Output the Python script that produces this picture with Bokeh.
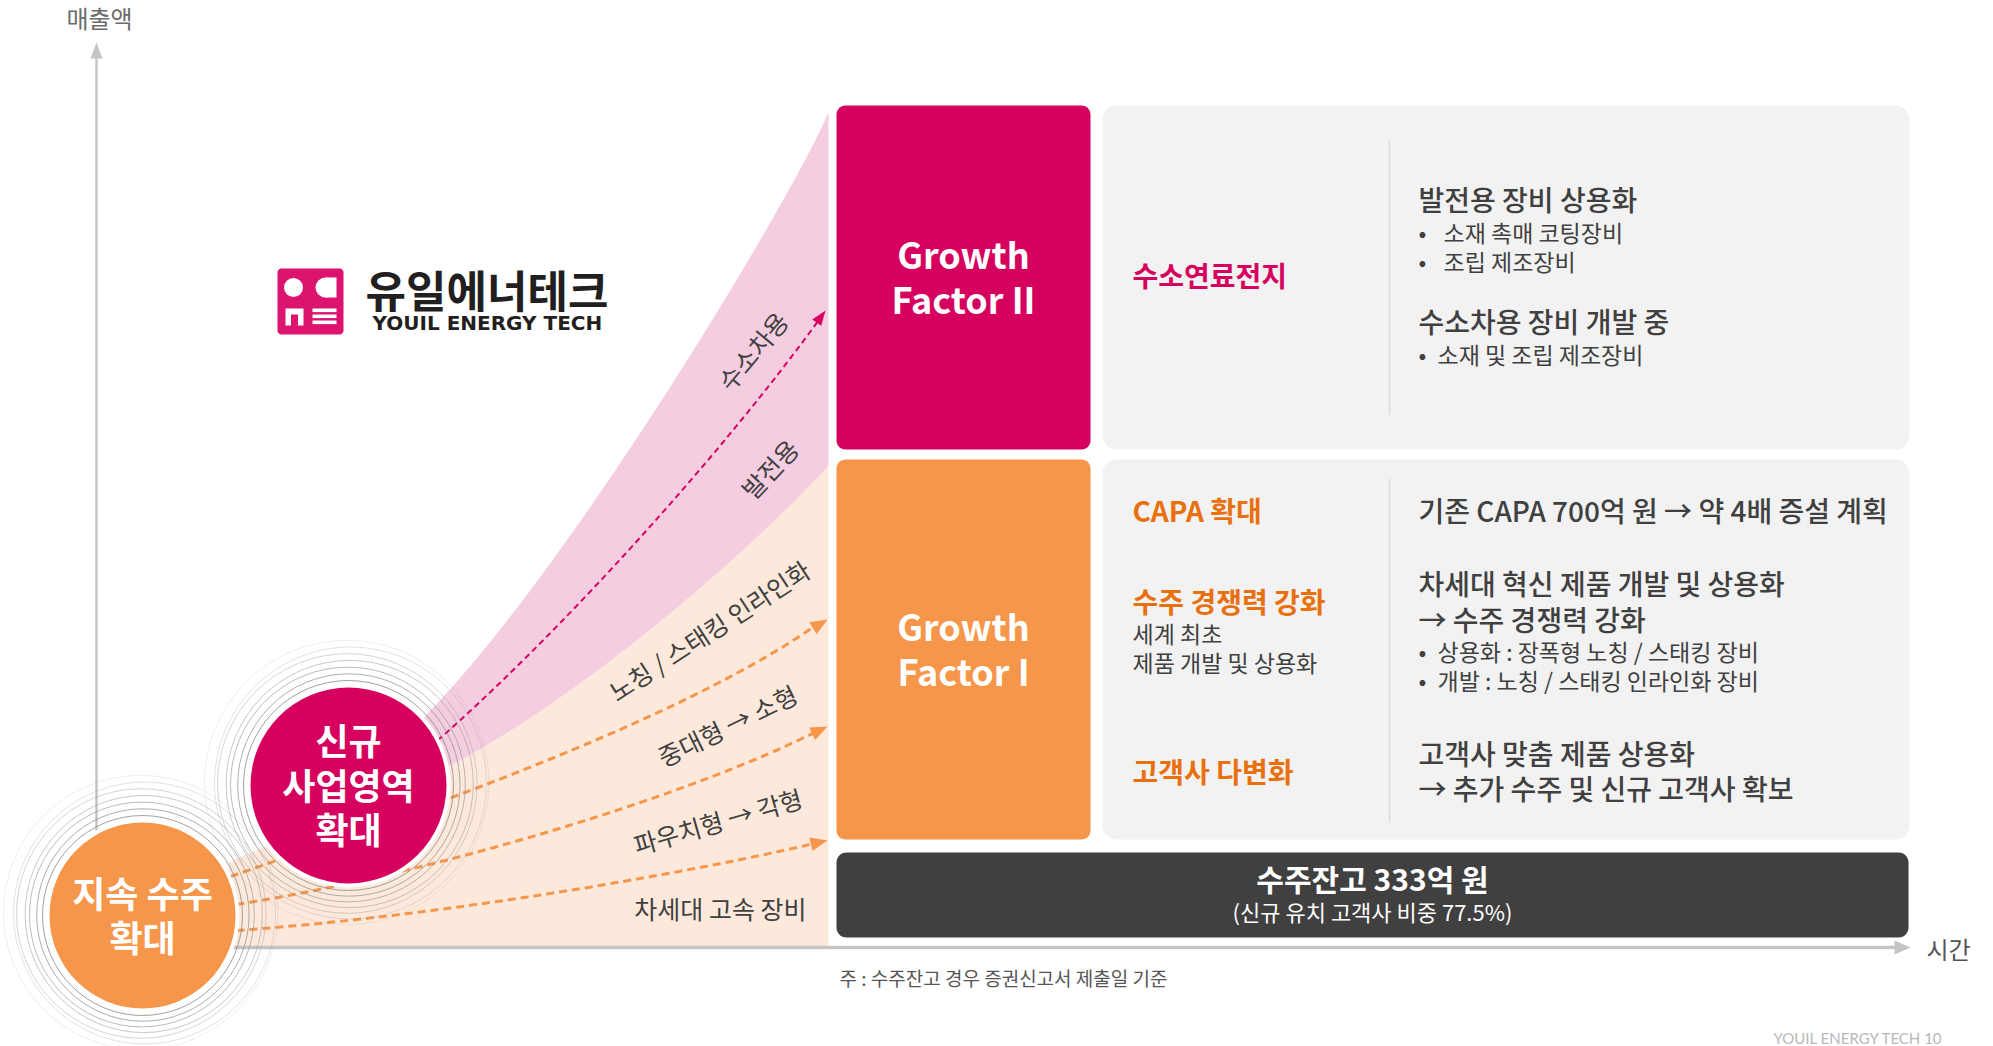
import numpy as np
from bokeh.plotting import figure
from bokeh.models import Range1d
from bokeh.core.properties import value
from bokeh.embed import file_html
from bokeh.resources import INLINE

# ---------------- content ----------------
axis_labels = ["매출액", "시간"]
circle_new = ["신규", "사업영역", "확대"]
circle_keep = ["지속 수주", "확대"]
h2_path_labels = ["수소차용", "발전용"]
core_path_labels = ["노칭 / 스태킹 인라인화", "중대형 → 소형", "파우치형 → 각형", "차세대 고속 장비"]
factor2_title = ["Growth", "Factor II"]
factor1_title = ["Growth", "Factor I"]
f2_category = ["수소연료전지"]
f2_heads = ["발전용 장비 상용화", "수소차용 장비 개발 중"]
f2_bullets = ["소재 촉매 코팅장비", "조립 제조장비", "소재 및 조립 제조장비"]
f1_categories = ["CAPA 확대", "수주 경쟁력 강화", "고객사 다변화"]
f1_category_sub = ["세계 최초", "제품 개발 및 상용화"]
f1_heads = ["기존 CAPA 700억 원 → 약 4배 증설 계획",
            "차세대 혁신 제품 개발 및 상용화", "→ 수주 경쟁력 강화",
            "고객사 맞춤 제품 상용화", "→ 추가 수주 및 신규 고객사 확보"]
f1_bullets = ["상용화 : 장폭형 노칭 / 스태킹 장비", "개발 : 노칭 / 스태킹 인라인화 장비"]
backlog_title = ["수주잔고 333억 원"]
backlog_sub = ["(신규 유치 고객사 비중 77.5%)"]
footnote = ["주 : 수주잔고 경우 증권신고서 제출일 기준"]
page_footer = ["YOUIL ENERGY TECH   10"]
logo_kr = ["유일에너테크"]
logo_en = ["YOUIL ENERGY TECH"]

# ---------------- style ----------------
MAGENTA = "#D6005F"
ORANGE = "#F5964A"
ORANGE_TXT = "#E9700E"
PINK = "#F4CDE0"
PEACH = "#FDE9DB"
PANEL = "#F2F2F2"
DARK = "#404040"
AXIS = "#C4C4C4"
FONT = "Noto Sans CJK KR"
FONT_MED = "Noto Sans CJK KR Medium"
W, H = 1993, 1046

p = figure(width=W, height=H, output_backend="svg", toolbar_location=None,
           x_axis_location=None, y_axis_location=None,
           x_range=Range1d(0, W), y_range=Range1d(H, 0))
p.min_border = 0
p.min_border_left = p.min_border_right = p.min_border_top = p.min_border_bottom = 0
p.grid.visible = False
p.outline_line_color = None
p.background_fill_color = "white"
p.border_fill_color = "white"


def bez(p0, p1, p2, p3, n=80):
    t = np.linspace(0, 1, n)[:, None]
    P = ((1 - t) ** 3) * np.array(p0) + 3 * ((1 - t) ** 2) * t * np.array(p1) \
        + 3 * (1 - t) * t ** 2 * np.array(p2) + t ** 3 * np.array(p3)
    return P[:, 0], P[:, 1]


def rrect(x0, y0, x1, y1, r, n=10):
    xs, ys = [], []
    for cx, cy, a0 in [(x0 + r, y0 + r, 180), (x1 - r, y0 + r, 270),
                       (x1 - r, y1 - r, 0), (x0 + r, y1 - r, 90)]:
        a = np.radians(np.linspace(a0, a0 + 90, n))
        xs += list(cx + r * np.cos(a))
        ys += list(cy + r * np.sin(a))
    return xs, ys


def box(x0, y0, x1, y1, r, color):
    xs, ys = rrect(x0, y0, x1, y1, r)
    p.patch(xs, ys, fill_color=color, line_color=None)


def txt(x, y, s, size, color=DARK, bold=False, align="left", angle=0.0, baseline="middle", font=FONT):
    if baseline == "middle":
        y = y - 3 * np.cos(angle)
        x = x - 3 * np.sin(angle)
    p.text(x=[x], y=[y], text=[s], text_font=value(font), text_font_size=f"{size}px",
           text_color=color, text_font_style="bold" if bold else "normal",
           text_align=align, text_baseline=baseline, angle=angle)


def bullet(xb, xt, y, s, size=23):
    txt(xb, y, "•", size)
    txt(xt, y, s, size)


def head(tip, prev, length, width, color):
    tx, ty = tip
    dx, dy = tx - prev[0], ty - prev[1]
    L = np.hypot(dx, dy)
    ux, uy = dx / L, dy / L
    bx, by = tx - ux * length, ty - uy * length
    px, py = -uy, ux
    p.patch([tx, bx + px * width / 2, bx - px * width / 2],
            [ty, by + py * width / 2, by - py * width / 2],
            fill_color=color, line_color=None)


# ---------------- growth fan ----------------
lx, ly = bez((828, 465), (790, 510), (600, 690), (440, 770))
# peach region
p.patch(list(lx) + [228, 228, 828], list(ly) + [862, 947, 947], fill_color=PEACH, line_color=None)
# pink region
ux_, uy_ = bez((420, 720), (560, 582), (788, 205), (828, 112))
p.patch(list(ux_) + list(lx), list(uy_) + list(ly), fill_color=PINK, line_color=None)

# axes
p.line([96, 96], [947, 58], line_color=AXIS, line_width=2.5)
head((96, 42), (96, 60), 16, 12, AXIS)
p.line([100, 1895], [947, 947], line_color=AXIS, line_width=3.5)
head((1910, 947), (1890, 947), 16, 14, AXIS)
txt(99, 20, axis_labels[0], 24, "#6B6B6B", align="center")
txt(1948, 951, axis_labels[1], 24, "#555555", align="center")
txt(839, 980, footnote[0], 19, "#555555")
txt(1773, 1046, page_footer[0], 15, "#B8B8B8", baseline="bottom", font="Lato")

# dashed arrows (orange)
for P in [((230, 876), (420, 810), (680, 720), (818, 623)),
          ((236, 904), (450, 870), (700, 790), (818, 730)),
          ((236, 930), (450, 915), (700, 870), (818, 842))]:
    bx_, by_ = bez(*P)
    p.line(bx_, by_, line_color=ORANGE, line_width=3, line_dash="8 5")
    head((827, P[3][1] - 4 if P[3][1] < 800 else P[3][1] - 2), (bx_[-6], by_[-6]), 17, 14, ORANGE)

# dashed arrow (magenta)
mx, my = bez((437, 740), (560, 632), (720, 455), (818, 320))
p.line(mx, my, line_color=MAGENTA, line_width=2, line_dash="6 4")
head((825, 310), (mx[-5], my[-5]), 15, 11, MAGENTA)

# path labels
txt(754, 352, h2_path_labels[0], 25, angle=np.radians(50), align="center")
txt(771, 470, h2_path_labels[1], 25, angle=np.radians(47), align="center")
txt(710, 632, core_path_labels[0], 25, angle=np.radians(33), align="center")
txt(728, 727, core_path_labels[1], 25, angle=np.radians(26), align="center")
txt(718, 823, core_path_labels[2], 25, angle=np.radians(16), align="center")
txt(806, 910, core_path_labels[3], 25, align="right")

# circles with halo rings
for cx, cy, R, col in [(348, 785, 98, MAGENTA), (142, 915, 93, ORANGE)]:
    for k in range(7):
        p.circle(x=[cx + (0.8 if k % 2 else -0.6) * k * 0.5], y=[cy - 0.5 * k], radius=R + 7 + 6.2 * k,
                 fill_color=None, line_color="#8A8A8A", line_alpha=max(0.8 - 0.11 * k, 0.15), line_width=1)
    p.circle(x=[cx], y=[cy], radius=R + 4, fill_color="white", line_color=None)
    p.circle(x=[cx], y=[cy], radius=R, fill_color=col, line_color=None)

txt(348, 741, circle_new[0], 36, "white", bold=True, align="center")
txt(348, 786, circle_new[1], 36, "white", bold=True, align="center")
txt(348, 830, circle_new[2], 36, "white", bold=True, align="center")
txt(142, 894, circle_keep[0], 36, "white", bold=True, align="center")
txt(142, 938, circle_keep[1], 36, "white", bold=True, align="center")

# ---------------- factor boxes ----------------
box(836, 105, 1090, 449, 9, MAGENTA)
box(1102, 105, 1909, 449, 14, PANEL)
box(836, 459, 1090, 839, 9, ORANGE)
box(1102, 459, 1909, 839, 14, PANEL)
box(836, 852, 1908, 937, 10, DARK)
p.line([1389, 1389], [140, 414], line_color="#DADADA", line_width=1.5)
p.line([1389, 1389], [478, 821], line_color="#DADADA", line_width=1.5)

txt(963, 255, factor2_title[0], 36, "white", bold=True, align="center")
txt(963, 300, factor2_title[1], 36, "white", bold=True, align="center")
txt(963, 627, factor1_title[0], 36, "white", bold=True, align="center")
txt(963, 672, factor1_title[1], 36, "white", bold=True, align="center")

txt(1132, 277, f2_category[0], 28, MAGENTA, bold=True)
txt(1418, 201, f2_heads[0], 28, font=FONT_MED)
bullet(1418, 1443, 234, f2_bullets[0])
bullet(1418, 1443, 263, f2_bullets[1])
txt(1418, 323, f2_heads[1], 28, font=FONT_MED)
bullet(1418, 1437, 356, f2_bullets[2])

txt(1132, 512, f1_categories[0], 28, ORANGE_TXT, bold=True)
txt(1132, 603, f1_categories[1], 28, ORANGE_TXT, bold=True)
txt(1132, 635, f1_category_sub[0], 23)
txt(1132, 664, f1_category_sub[1], 23)
txt(1132, 773, f1_categories[2], 28, ORANGE_TXT, bold=True)

txt(1418, 512, f1_heads[0], 28, font=FONT_MED)
txt(1418, 585, f1_heads[1], 28, font=FONT_MED)
txt(1418, 621, f1_heads[2], 28, font=FONT_MED)
bullet(1418, 1437, 653, f1_bullets[0])
bullet(1418, 1437, 682, f1_bullets[1])
txt(1418, 755, f1_heads[3], 28, font=FONT_MED)
txt(1418, 790, f1_heads[4], 28, font=FONT_MED)

txt(1372, 880, backlog_title[0], 30, "white", bold=True, align="center")
txt(1372, 913, backlog_sub[0], 22, "white", align="center")

# ---------------- logo ----------------
LOGO = "#DC1470"
box(277, 268, 343, 334, 4, LOGO)
p.circle(x=[293], y=[287], radius=9.5, fill_color="white", line_color=None)
p.circle(x=[325], y=[287], radius=10, fill_color="white", line_color=None)
p.quad(left=[325], right=[336], top=[277], bottom=[297], fill_color="white", line_color=None)
p.quad(left=[285], right=[303], top=[308], bottom=[325], fill_color="white", line_color=None)
p.quad(left=[290.5], right=[297.5], top=[314], bottom=[325.5], fill_color=LOGO, line_color=None)
for y0 in [308, 314, 320]:
    p.quad(left=[312], right=[336], top=[y0], bottom=[y0 + 3.6], fill_color="white", line_color=None)
txt(365, 291, logo_kr[0], 44, "#231F20", bold=True)
txt(372, 325, logo_en[0], 20, "#231F20", bold=True, font="DejaVu Sans")

open("out.html", "w").write(file_html(p, INLINE))
